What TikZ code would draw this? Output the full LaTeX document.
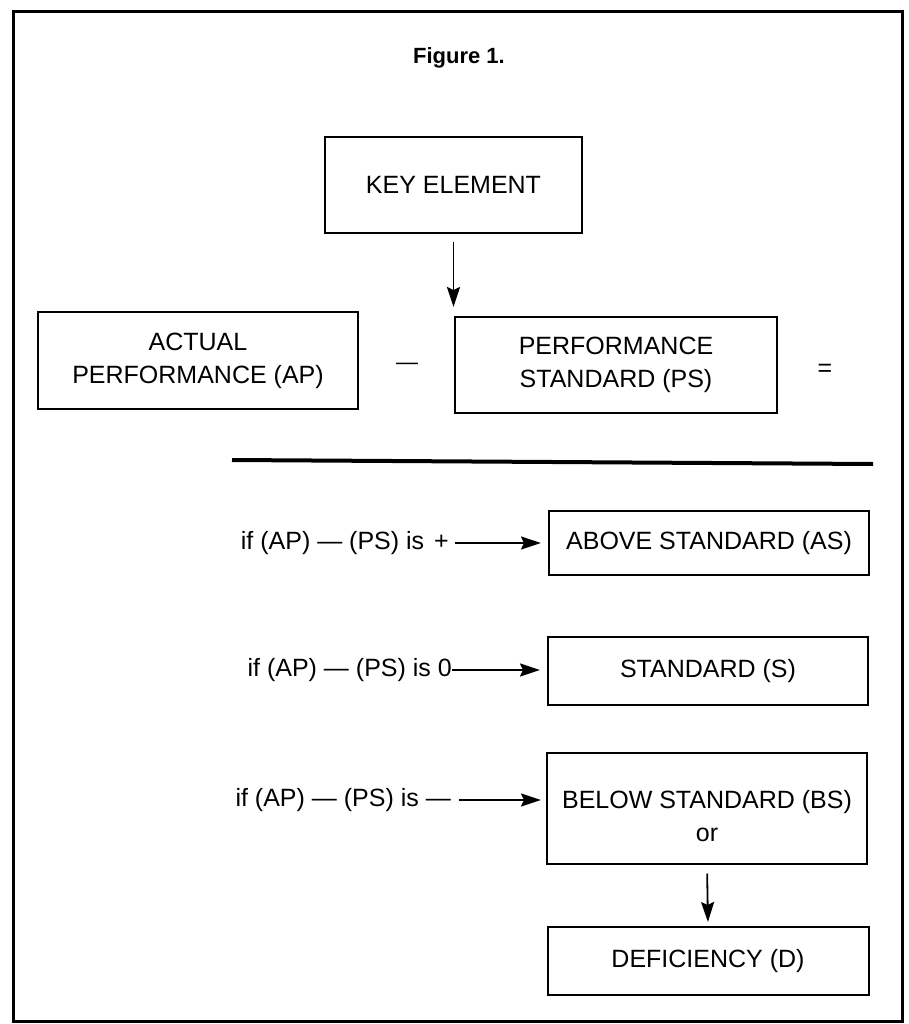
\documentclass[tikz,border=0pt]{standalone}
\usepackage{fontspec}
\setmainfont{Liberation Sans}
\usetikzlibrary{arrows.meta}
\begin{document}
\begin{tikzpicture}[x=1pt,y=-1pt,
  txt/.style={font=\fontsize{25}{33}\selectfont, inner sep=0pt},
  box/.style={draw, line width=2pt, txt, align=center, minimum width=#1},
  arr/.style={line width=1.8pt, -{Stealth[length=20pt,width=13pt,inset=3pt]}},
  lab/.style={txt, anchor=east}
]
\useasboundingbox[fill=white] (0,0) rectangle (908,1024);
\draw[line width=3pt] (13,12) rectangle (902,1021);

\node[font=\fontsize{22}{26}\selectfont\bfseries, inner sep=0pt] (title) at (459,58) {Figure 1.};

\node[box=257pt, minimum height=96pt] (key) at (453.5,185) {KEY ELEMENT};
\node[box=320pt, minimum height=97pt] (ap) at (198,360.5) {ACTUAL\\PERFORMANCE (AP)};
\node[box=322pt, minimum height=96pt] (ps) at (616,365) {PERFORMANCE\\STANDARD (PS)};
\node[txt, font=\fontsize{22}{26}\selectfont] (minus) at (407,366) {—};
\node[txt] (eq) at (825,370) {=};

\draw[arr, shorten <=8pt, shorten >=9pt] (key.south) -- (key.south |- ps.north);

\coordinate (sepL) at (232,460);
\coordinate (sepR) at (873,464);
\draw[line width=4pt] (sepL) -- (sepR);

\node[box=320pt, minimum height=64pt] (as) at (709,543) {ABOVE STANDARD (AS)};
\node[box=320pt, minimum height=68pt] (s) at (708,671) {STANDARD (S)};
\node[box=320pt, minimum height=111pt, text height=68pt] (bs) at (707,808) {BELOW STANDARD (BS)\\or};
\node[box=321pt, minimum height=68pt] (d) at (708,961) {DEFICIENCY (D)};

\node[lab] (l1) at (449,543) {if (AP) — (PS) is\hspace{3pt} +};
\node[lab] (l2) at (452,670) {if (AP) — (PS) is 0};
\node[lab] (l3) at (451,800) {if (AP) — (PS) is —};

\draw[arr, shorten <=6pt, shorten >=7pt] (l1.east) -- (l1.east -| as.west);
\draw[arr, shorten >=7pt] (l2.east) -- (l2.east -| s.west);
\draw[arr, shorten <=8pt, shorten >=5pt] (l3.east) -- (l3.east -| bs.west);
\draw[arr, shorten <=9pt, shorten >=4pt] (bs.south) -- (d.north);
\end{tikzpicture}
\end{document}
